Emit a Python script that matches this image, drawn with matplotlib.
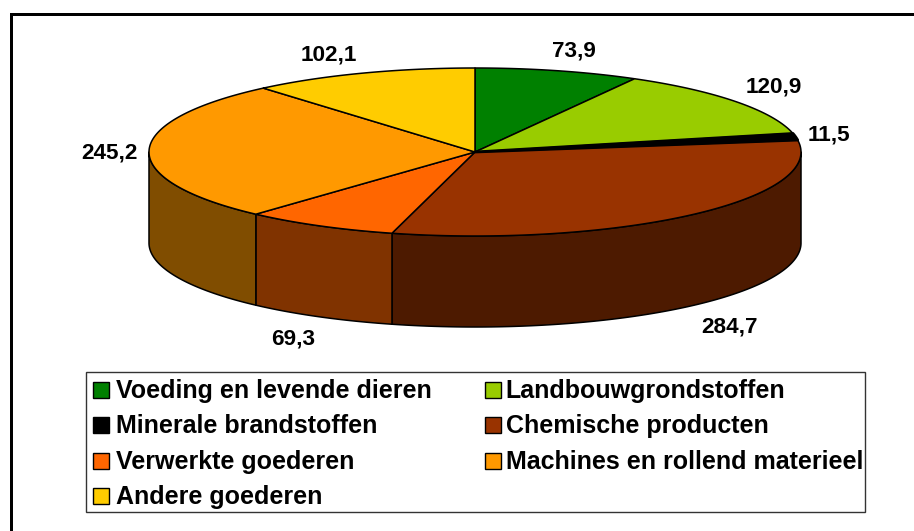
import numpy as np
import matplotlib
matplotlib.use("Agg")
import matplotlib.pyplot as plt
from matplotlib.patches import Polygon, Rectangle

categories = ["Voeding en levende dieren", "Landbouwgrondstoffen", "Minerale brandstoffen",
              "Chemische producten", "Verwerkte goederen", "Machines en rollend materieel",
              "Andere goederen"]
values = [73.9, 120.9, 11.5, 284.7, 69.3, 245.2, 102.1]
value_labels = ["73,9", "120,9", "11,5", "284,7", "69,3", "245,2", "102,1"]
top_colors = ["#008000", "#99CC00", "#000000", "#993300", "#FF6600", "#FF9900", "#FFCC00"]
side_colors = ["#004000", "#4D6600", "#000000", "#4D1A00", "#803300", "#804D00", "#806600"]
label_pos = [(574, 57), (774, 93), (829, 140), (730, 333), (293, 345), (109, 158), (329, 61)]

W, H = 914, 531
CX, CY, RX, RY, DEPTH = 475, 152, 326, 84, 91
FS = 18.0
plt.rcParams["font.family"] = ["Liberation Sans", "DejaVu Sans"]

fig = plt.figure(figsize=(W / 100, H / 100), dpi=100, facecolor="white")
ax = fig.add_axes([0, 0, 1, 1])
ax.set_xlim(0, W)
ax.set_ylim(H, 0)
ax.axis("off")

# chart frame: only top and left edges fall inside the picture
ax.plot([10.5, 10.5, W], [H, 13.5, 13.5], color="black", lw=2.16, solid_joinstyle="miter",
        solid_capstyle="butt")


def rim(a0, a1, dy=0.0):
    t = np.radians(np.linspace(a0, a1, max(int(abs(a1 - a0) * 2), 2)))
    return np.column_stack([CX + RX * np.sin(t), CY + dy - RY * np.cos(t)])


edges = np.concatenate([[0], np.cumsum(values)]) / np.sum(values) * 360

# visible side wall (clockwise angle from top: 90..270)
for i in range(len(values)):
    a0, a1 = max(edges[i], 90), min(edges[i + 1], 270)
    if a1 <= a0:
        continue
    up = rim(a0, a1)
    down = rim(a1, a0, DEPTH)
    ax.add_patch(Polygon(np.vstack([up, down]), closed=True, facecolor=side_colors[i],
                         edgecolor="black", lw=1.1, joinstyle="round", zorder=2))

# top face; the thin black slice goes last so its outline stays visible
for i in range(len(values)):
    pts = np.vstack([[CX, CY], rim(edges[i], edges[i + 1])])
    is_black = top_colors[i] == "#000000"
    ax.add_patch(Polygon(pts, closed=True, facecolor=top_colors[i], edgecolor="black",
                         lw=2.0 if is_black else 1.1, joinstyle="round", zorder=3.5 if is_black else 3))

for (x, y), s in zip(label_pos, value_labels):
    ax.text(x, y, s, ha="center", va="baseline", fontsize=16.2, fontweight="bold", color="black", zorder=5)

# legend
ax.add_patch(Rectangle((85.5, 371.5), 779, 140, facecolor="white", edgecolor="#333333", lw=1.0, zorder=4))
col_swatch = [92.5, 484.5]
col_text = [115.5, 505.5]
row_base = [398, 433, 469, 504]
for i, name in enumerate(categories):
    r, c = i // 2, i % 2
    ax.add_patch(Rectangle((col_swatch[c], row_base[r] - 16), 16, 16, facecolor=top_colors[i],
                           edgecolor="black", lw=1.0, zorder=5))
    ax.text(col_text[c], row_base[r], name, ha="left", va="baseline", fontsize=FS, fontweight="bold",
            color="black", zorder=5)

fig.savefig("out.png", dpi=100, facecolor="white")
